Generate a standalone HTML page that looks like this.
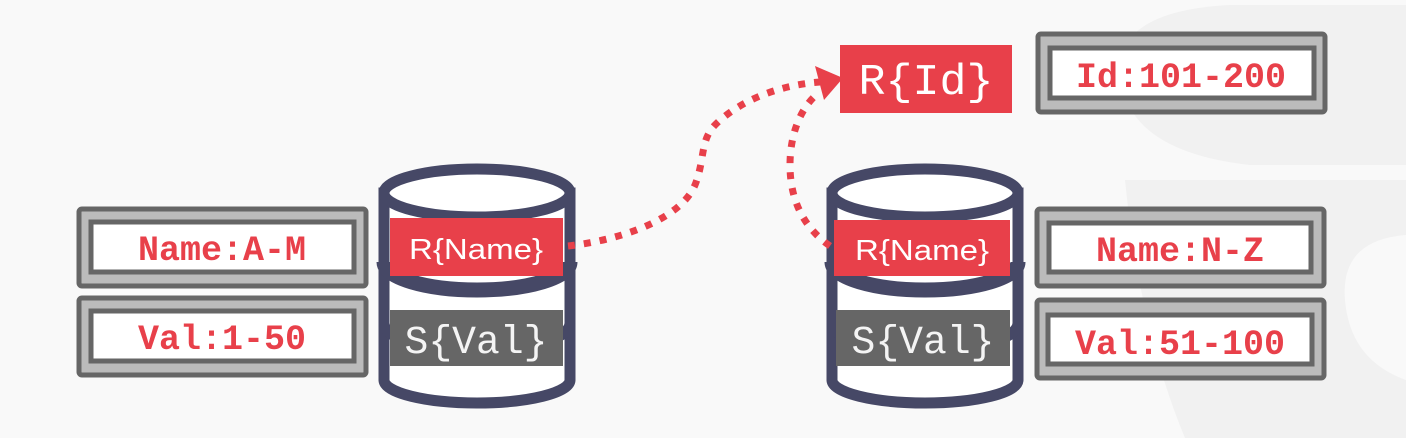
<!DOCTYPE html>
<html><head><meta charset="utf-8"><style>
html,body{margin:0;padding:0;background:#f9f9f9;}
svg{display:block;}
</style></head><body>
<svg width="1406" height="438" viewBox="0 0 1406 438" xmlns="http://www.w3.org/2000/svg">
<rect width="1406" height="438" fill="#f9f9f9"/>
<g fill="#f1f1f1">
<path d="M1120 60 Q1130 10 1230 5 L1406 5 L1406 165 L1250 165 Q1115 150 1120 60 Z"/>
<path d="M1125 180 L1406 180 L1406 235 Q1340 240 1345 300 Q1350 360 1406 380 L1406 438 L1185 438 Q1140 330 1125 180 Z"/>
</g>
<defs>
<g id="cyl" fill="none" stroke="#464866" stroke-width="11">
<path d="M-93 193 L-93 380 A93 23 0 0 0 93 380 L93 193 Z" fill="#fff"/>
<path d="M-93 262 A93 28 0 0 0 93 262" stroke-width="15"/>
<path d="M-93 323 A93 28 0 0 0 93 323"/>
<ellipse cx="0" cy="193" rx="93" ry="24" fill="#fff"/>
</g>
</defs>
<use href="#cyl" x="477" y="0"/>
<use href="#cyl" x="925" y="0"/>
<rect x="390" y="218" width="173" height="58" fill="#e8404a"/>
<text x="476" y="259" font-family="Liberation Sans, sans-serif" font-size="29" fill="#fff" text-anchor="middle" textLength="134" lengthAdjust="spacingAndGlyphs">R{Name}</text>
<rect x="390" y="310" width="173" height="56" fill="#666"/>
<text x="476" y="353" font-family="Liberation Mono, monospace" font-size="40" fill="#f4f4f4" text-anchor="middle" textLength="143" lengthAdjust="spacingAndGlyphs">S{Val}</text>
<rect x="834" y="220" width="176" height="56" fill="#e8404a"/>
<text x="922" y="260" font-family="Liberation Sans, sans-serif" font-size="29" fill="#fff" text-anchor="middle" textLength="134" lengthAdjust="spacingAndGlyphs">R{Name}</text>
<rect x="836" y="310" width="174" height="56" fill="#666"/>
<text x="923" y="353" font-family="Liberation Mono, monospace" font-size="40" fill="#f4f4f4" text-anchor="middle" textLength="143" lengthAdjust="spacingAndGlyphs">S{Val}</text>
<rect x="840" y="45" width="172" height="68" fill="#e8404a"/>
<text x="926" y="94" font-family="Liberation Mono, monospace" font-size="44" fill="#fff" text-anchor="middle" textLength="135" lengthAdjust="spacingAndGlyphs">R{Id}</text>
<g font-family="Liberation Mono, monospace" font-weight="bold" font-size="35" fill="#e8404a" text-anchor="middle">
<rect x="79" y="209" width="287" height="77" rx="3" fill="#bbb" stroke="#666" stroke-width="5"/>
<rect x="91" y="222" width="263" height="50" fill="#fff" stroke="#666" stroke-width="5"/>
<text x="222" y="260">Name:A-M</text>
<rect x="79" y="298" width="287" height="77" rx="3" fill="#bbb" stroke="#666" stroke-width="5"/>
<rect x="91" y="311" width="263" height="50" fill="#fff" stroke="#666" stroke-width="5"/>
<text x="222" y="349">Val:1-50</text>
<rect x="1038" y="34" width="287" height="78" rx="3" fill="#bbb" stroke="#666" stroke-width="5"/>
<rect x="1050" y="48" width="264" height="50" fill="#fff" stroke="#666" stroke-width="5"/>
<text x="1181" y="87">Id:101-200</text>
<rect x="1037" y="209" width="287" height="77" rx="3" fill="#bbb" stroke="#666" stroke-width="5"/>
<rect x="1049" y="223" width="262" height="49" fill="#fff" stroke="#666" stroke-width="5"/>
<text x="1180" y="261">Name:N-Z</text>
<rect x="1037" y="300" width="287" height="78" rx="3" fill="#bbb" stroke="#666" stroke-width="5"/>
<rect x="1048" y="315" width="264" height="49" fill="#fff" stroke="#666" stroke-width="5"/>
<text x="1180" y="354">Val:51-100</text>
</g>
<g fill="none" stroke="#e8404a" stroke-width="7" stroke-dasharray="7 9">
<path d="M568 246 C 620 240, 680 220, 695 185 C 705 160, 700 140, 715 125 C 740 100, 780 85, 820 82"/>
<path d="M830 246 C 800 225, 790 195, 790 165 C 790 135, 800 110, 815 96"/>
</g>
<polygon points="843,78 815,66 824,100" fill="#e8404a"/>
</svg>
</body></html>
